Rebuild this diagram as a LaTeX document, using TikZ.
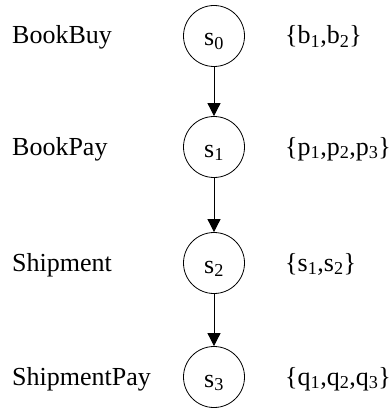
\documentclass[tikz,border=0pt]{standalone}
\usepackage{fontspec}
\setmainfont{Liberation Serif}
\usetikzlibrary{arrows.meta}
\newcommand{\stxt}[1]{\raisebox{-10pt}[0pt][0pt]{#1}}
\begin{document}
\begin{tikzpicture}[x=1pt,y=-1pt,
  state/.style={draw,circle,line width=0.8pt,minimum size=61pt,inner sep=0pt,font=\fontsize{26}{31}\selectfont},
  lbl/.style={anchor=base west,inner sep=0pt,font=\fontsize{26}{31}\selectfont},
  trans/.style={line width=0.8pt,-{Triangle[length=13pt,width=13pt]}}]
\useasboundingbox (0,0) rectangle (390,409);
\node[state] (s0) at (214,36) {\stxt{s\textsubscript{0}}};
\node[state] (s1) at (214,147) {\stxt{s\textsubscript{1}}};
\node[state] (s2) at (214,263) {\stxt{s\textsubscript{2}}};
\node[state] (s3) at (214,377) {\stxt{s\textsubscript{3}}};
\node[lbl] (l0) at (12,44) {BookBuy};
\node[lbl] (l1) at (12,155) {BookPay};
\node[lbl] (l2) at (12,271) {Shipment};
\node[lbl] (l3) at (12,385) {ShipmentPay};
\node[lbl] (r0) at (285,44) {\{b\textsubscript{1},b\textsubscript{2}\}};
\node[lbl] (r1) at (285,155) {\{p\textsubscript{1},p\textsubscript{2},p\textsubscript{3}\}};
\node[lbl] (r2) at (285,271) {\{s\textsubscript{1},s\textsubscript{2}\}};
\node[lbl] (r3) at (285,385) {\{q\textsubscript{1},q\textsubscript{2},q\textsubscript{3}\}};
\draw[trans] (s0) -- (s1);
\draw[trans] (s1) -- (s2);
\draw[trans] (s2) -- (s3);
\end{tikzpicture}
\end{document}
